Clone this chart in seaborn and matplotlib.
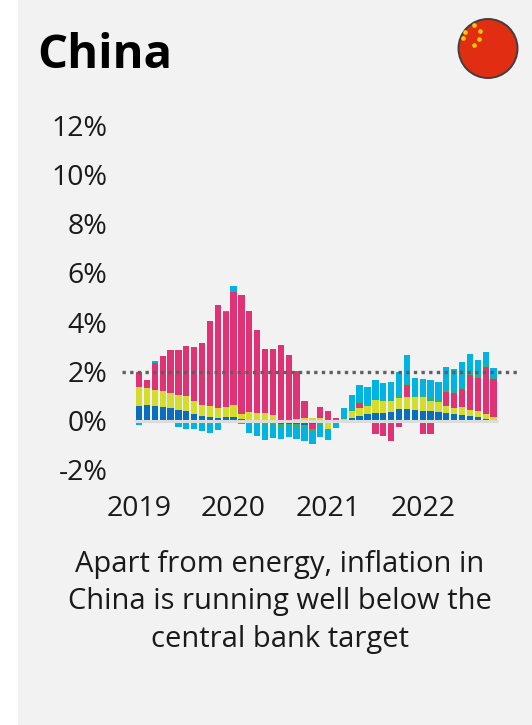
import numpy as np
import pandas as pd
import seaborn as sns
import matplotlib
matplotlib.use('Agg')
import matplotlib.pyplot as plt
from matplotlib.patches import Circle, Rectangle

# Data, monthly contributions in percentage points (Jan 2019 - Oct 2022)
months = list(pd.date_range('2019-01-01', periods=46, freq='MS').strftime('%Y-%m'))
blue = [.6, .62, .6, .57, .5, .43, .4, .27, .19, .15, .11, .15, .15, .07, .02, -.1,
        -.1, -.1, -.15, -.13, -.13, -.17, -.15, -.08, -.07, -.05, .02, .12, .2, .26, .3,
        .32, .36, .47, .49, .45, .4, .4, .36, .32, .28, .24, .2, .16, .08, 0]
lime = [.78, .69, .65, .63, .62, .6, .6, .53, .45, .45, .4, .4, .49, .2, .33, .3,
        .32, .23, .03, .02, .07, .1, .1, .1, -.25, .03, .05, .26, .3, .35, .54,
        .5, .46, .47, .48, .5, .57, .4, .38, .28, .24, .32, .24, .24, .18, .14]
pink = [.6, .36, 1.08, 1.43, 1.75, 1.84, 2.03, 2.2, 2.53, 3.45, 4.19, 3.88, 4.59, 4.84, 4.12, 3.4,
        2.57, 2.66, 3.06, 2.65, 1.93, .72, -.2, .45, .4, .1, 0, .03, .22, -.1, -.55,
        -.6, -.83, -.25, .47, 0, -.53, -.53, -.05, .58, .62, .74, 1.42, 1.35, 1.9, 1.56]
green = [0, 0, 0, 0, 0, 0, 0, 0, 0, 0, 0, -.05, -.05, -.05, -.08, -.04,
         -.13, -.12, -.12, -.1, -.12, -.12, -.1, -.1, 0, -.1, .03, .02, .03, .02, .05,
         .05, .07, .07, .07, .1, .03, .15, .12, .08, .08, .05, .02, .07, .08, .07]
cyan = [-.18, -.08, .1, 0, -.05, -.24, -.32, -.35, -.42, -.51, -.39, .03, .23, -.1, -.43, -.5,
        -.55, -.5, -.47, -.42, -.5, -.52, -.5, -.5, -.45, -.15, .4, .6, .7, .75, .75,
        .68, .7, .95, 1.15, .68, .68, .7, .72, .9, .86, 1.03, .82, .63, .54, .38]
series = [blue, lime, pink, green, cyan]
colours = ['#0a6ebd', '#d4dc2e', '#e03375', '#2eb36f', '#00b3e3']

yticks = [-2, 0, 2, 4, 6, 8, 10, 12]
year_pos = [0, 12, 24, 36]
year_labels = ['2019', '2020', '2021', '2022']
target = 1.97

W, H = 532, 725
plt.rcParams['font.family'] = ['Open Sans', 'DejaVu Sans']
fig = plt.figure(figsize=(W / 100, H / 100), dpi=100, facecolor='white')

# overlay in pixel coordinates for panel, flag and text
bg = fig.add_axes([0, 0, 1, 1], zorder=0)
bg.set_xlim(0, W)
bg.set_ylim(H, 0)
bg.axis('off')
bg.add_patch(Rectangle((18, 0), W - 18, H, color='#f2f2f2', lw=0))
bg.add_patch(Circle((488, 48.5), 29.5, facecolor='#e12d12', edgecolor='#3f3f3f', lw=1.4))
bg.scatter([474, 480, 479, 474, 463, 465], [25, 31, 39, 45, 38, 32], s=11, color='#ffc800', lw=0)
bg.text(37, 55, 'China', fontsize=34, fontweight='bold', va='center', ha='left', color='black')
bg.text(280, 602, 'Apart from energy, inflation in\nChina is running well below the\ncentral bank target',
        fontsize=21, ha='center', va='center', linespacing=1.38, color='#1a1a1a')

ax = fig.add_axes([122 / W, (H - 470) / H, 396 / W, 345 / H], zorder=1)
ax.patch.set_alpha(0)

# diverging stack: positive and negative parts pile up separately
pos = np.zeros(46)
neg = np.zeros(46)
for vals, c in zip(series, colours):
    vals = np.array(vals)
    bot = np.where(vals >= 0, pos, neg)
    sns.barplot(x=months, y=vals, bottom=bot, color=c, saturation=1, width=.8, ax=ax)
    pos += np.clip(vals, 0, None)
    neg += np.clip(vals, None, 0)

ax.plot([-.5, 45.5], [0, 0], color='#dcdcdc', lw=2.2, zorder=5, solid_capstyle='butt')
ax.axhline(target, color='#5f5f5f', lw=2.4, dashes=(1, 1.3), zorder=6)

ax.set_xlim(-2.16, 48.1)
ax.set_ylim(-2, 12)
ax.set_yticks(yticks)
ax.set_yticklabels([f'{t}%' for t in yticks])
ax.set_xticks(year_pos)
ax.set_xticklabels(year_labels)
ax.tick_params(length=0, labelsize=20.5, labelcolor='#1a1a1a')
ax.tick_params(axis='y', pad=10.5)
ax.tick_params(axis='x', pad=18)
ax.set_xlabel('')
ax.set_ylabel('')
sns.despine(ax=ax, left=True, bottom=True)

fig.savefig('out.png', dpi=100, facecolor='white')
